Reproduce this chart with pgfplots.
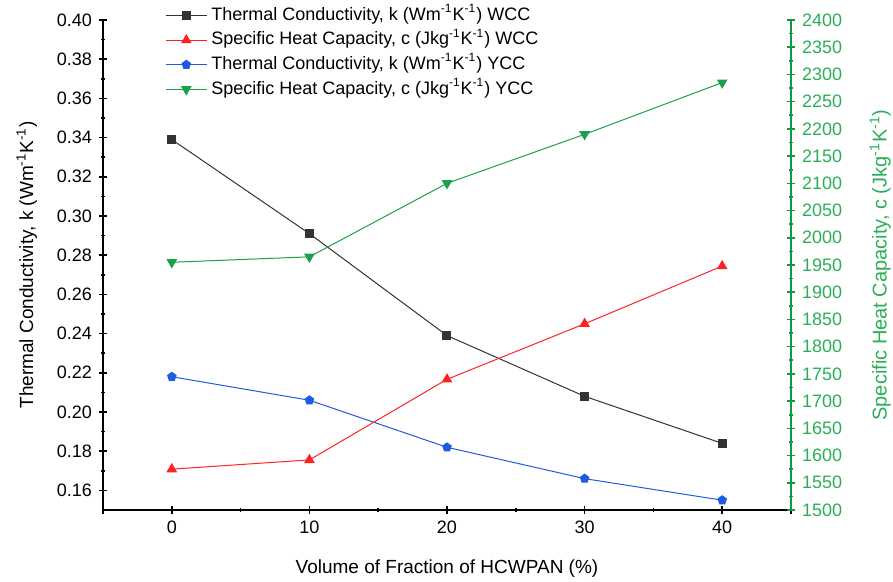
\documentclass[border=0pt]{standalone}
\usepackage{fontspec}
\setmainfont{Liberation Sans}
\usepackage{pgfplots}
\pgfplotsset{compat=1.18}
\definecolor{kblack}{HTML}{333333}
\definecolor{cred}{HTML}{FF2222}
\definecolor{kblue}{HTML}{1F5BE0}
\definecolor{cgreen}{HTML}{1DA04C}
\definecolor{axgreen}{HTML}{0E9A3E}
\definecolor{lblgreen}{HTML}{2BAE57}

\pgfplotsset{
  base/.style={
    scale only axis, width=344pt, height=245pt,
    xmin=-5, xmax=45, ymin=0.15, ymax=0.40,
    at={(0,0)}, anchor=south west,
    tick align=outside,
    major tick length=4pt, minor tick length=2.2pt,
    tick label style={font=\fontsize{9}{10}\selectfont},
    label style={font=\fontsize{9.5}{11}\selectfont},
    /pgf/number format/assume math mode=true,
    axis line style={-, line width=1pt},
    every tick/.style={line width=0.8pt},
  },
}

\begin{document}
\begin{tikzpicture}
% left axis: thermal conductivity
\begin{axis}[base,
  axis x line=bottom, axis y line=left,
  x axis line style={-}, y axis line style={-},
  xtick={0,10,20,30,40}, minor x tick num=1,
  extra x ticks={-5,45}, extra x tick labels={},
  extra x tick style={major tick length=4pt},
  ytick={0.16,0.18,...,0.401}, minor y tick num=1,
  yticklabel style={/pgf/number format/.cd,fixed,fixed zerofill,precision=2},
  xlabel={Volume of Fraction of HCWPAN (\%)},
  ylabel={Thermal Conductivity, k (Wm\textsuperscript{-1}K\textsuperscript{-1})},
  xlabel style={yshift=-2pt},
  ylabel shift=3pt,
]
\addplot[kblack, line width=0.5pt, mark=square*, mark size=2pt] coordinates {(0,0.339) (10,0.291) (20,0.239) (30,0.208) (40,0.184)};
\addplot[kblue, line width=0.5pt, mark=pentagon*, mark size=2.2pt] coordinates {(0,0.218) (10,0.206) (20,0.182) (30,0.166) (40,0.155)};
\end{axis}
% right axis: specific heat capacity
\begin{axis}[base,
  ymin=1500, ymax=2400,
  axis x line=none, axis y line=right,
  y axis line style={-, axgreen, line width=1pt},
  ytick={1500,1550,...,2400}, minor y tick num=1,
  every y tick/.style={axgreen, line width=0.8pt},
  yticklabel style={lblgreen, /pgf/number format/1000 sep={}},
  ylabel={Specific Heat Capacity, c (Jkg\textsuperscript{-1}K\textsuperscript{-1})},
  ylabel style={lblgreen},
  ylabel shift=7pt,
  legend style={draw=none, fill=none, at={(0.09,1.035)}, anchor=north west,
    font=\fontsize{9}{10}\selectfont, row sep=0pt, inner sep=0pt,
    nodes={text height=6.5pt, text depth=1.8pt, inner sep=2pt}},
  legend cell align=left,
  legend image code/.code={\draw[mark repeat=2,mark phase=2] plot coordinates {(0cm,0cm) (0.36cm,0cm) (0.72cm,0cm)};},
]
\addlegendimage{kblack, line width=0.5pt, mark=square*, mark size=2pt}
\addlegendentry{Thermal Conductivity, k (Wm\textsuperscript{-1}K\textsuperscript{-1}) WCC}
\addplot[cred, line width=0.5pt, mark=triangle*, mark size=2.6pt] coordinates {(0,1575) (10,1592) (20,1740) (30,1842) (40,1948)};
\addlegendentry{Specific Heat Capacity, c (Jkg\textsuperscript{-1}K\textsuperscript{-1}) WCC}
\addlegendimage{kblue, line width=0.5pt, mark=pentagon*, mark size=2.2pt}
\addlegendentry{Thermal Conductivity, k (Wm\textsuperscript{-1}K\textsuperscript{-1}) YCC}
\addplot[cgreen, line width=0.5pt, mark=triangle*, mark size=2.6pt, mark options={rotate=180}] coordinates {(0,1955) (10,1965) (20,2100) (30,2190) (40,2285)};
\addlegendentry{Specific Heat Capacity, c (Jkg\textsuperscript{-1}K\textsuperscript{-1}) YCC}
\end{axis}
\pgfresetboundingbox
\path (-51.5pt,-36pt) rectangle (395pt,255pt);
\end{tikzpicture}
\end{document}
